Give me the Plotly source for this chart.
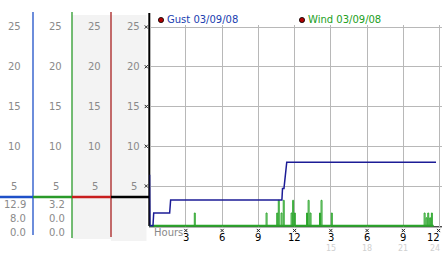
import plotly.graph_objects as go

W, H = 442, 253

# ---------------- data ----------------
gust_hours = [0, 0.03, 0.28, 0.34, 1.66, 1.74, 10.95, 11.0, 11.12, 11.35, 23.7]
gust_mph = [6.4, 0, 0, 1.6, 1.6, 3.25, 3.25, 4.7, 4.7, 8.0, 8.0]

wind_spike_hours = [3.70, 9.64, 10.52, 10.65, 10.88, 11.06, 11.71, 11.84, 11.98,
                    12.99, 13.12, 13.28, 14.06, 14.19, 15.04,
                    22.72, 22.88, 23.02, 23.18, 23.32]
wind_spike_mph = [1.6, 1.6, 1.6, 3.2, 1.6, 3.2, 1.6, 3.2, 1.6,
                  1.6, 3.2, 1.6, 1.6, 3.2, 1.6,
                  1.6, 1.0, 1.6, 1.0, 1.6]
wind_end_hour = 23.5

scale_ticks = [5, 10, 15, 20, 25]
gust_stats = ["12.9", "8.0", "0.0"]
wind_stats = ["3.2", "0.0", "0.0"]
hour_tick_vals = [3, 6, 9, 12, 15, 18, 21, 24]
hour_tick_text = ["3", "6", "9", "12", "3", "6", "9", "12"]
hour_tick_sub = ["", "", "", "", "15", "18", "21", "24"]
legend_names = ["Gust 03/09/08", "Wind 03/09/08"]

# ---------------- styling ----------------
FONT = "DejaVu Sans"
GRAY = "#8a8a8a"
GRID = "#b8b8b8"
GUST_C = "#1c1c96"
WIND_C = "#2aa52a"
BLUE = "#1e50c8"
GREEN = "#2a9a2a"
RED = "#c81e1e"
DRED = "#a82020"


def px(x):
    return x / W


def py(y):
    return 1 - y / H


# y scale: 0 -> 225.75px, 7.95 px per unit
Y0, YS = 225.75, 7.95
y_bottom_px, y_top_px = 227.0, 25.2
y_range = [-(y_bottom_px - Y0) / YS, (Y0 - y_top_px) / YS]
x_left_px, x_24_px = 149.6, 439.6
XS = (x_24_px - x_left_px) / 24
x_range = [0, (W - x_left_px) / XS]


def hx(h):
    return x_left_px + h * XS


def vy(v):
    return Y0 - v * YS


# wind series (stepped spikes)
wx, wy = [0], [0]
for h, v in zip(wind_spike_hours, wind_spike_mph):
    wx += [h, h + 0.08]
    wy += [v, 0]
wx.append(wind_end_hour)
wy.append(0)

fig = go.Figure()
fig.add_trace(go.Scatter(x=wx, y=wy, mode="lines", line=dict(color=WIND_C, width=1, shape="hv"),
                         hoverinfo="skip"))
fig.add_trace(go.Scatter(x=[0, wind_end_hour], y=[0, 0], mode="lines", line=dict(color=WIND_C, width=2),
                         hoverinfo="skip"))
fig.add_trace(go.Scatter(x=gust_hours, y=gust_mph, mode="lines", line=dict(color=GUST_C, width=1.5),
                         hoverinfo="skip"))

shapes = []
# gray column backgrounds
shapes.append(dict(type="rect", xref="paper", yref="paper", x0=px(72), x1=px(111), y0=py(239), y1=py(15),
                   fillcolor="#f3f3f3", line=dict(width=0), layer="below"))
shapes.append(dict(type="rect", xref="paper", yref="paper", x0=px(111), x1=px(146.5), y0=py(241), y1=py(15),
                   fillcolor="#f3f3f3", line=dict(width=0), layer="below"))
# vertical lines of left panel
for x, c, y0, y1, w in [(33, BLUE, 12, 235, 1.3), (72, GREEN, 12, 238, 1.3), (111, DRED, 12, 237, 1.3),
                        (149.3, "#000", 13, 226, 2)]:
    shapes.append(dict(type="line", xref="paper", yref="paper", x0=px(x), x1=px(x), y0=py(y0), y1=py(y1),
                       line=dict(color=c, width=w), layer="below"))
# horizontal thick line
for x0, x1, c in [(0, 33, BLUE), (33, 72, GREEN), (72, 111, RED), (111, 149, "#000")]:
    shapes.append(dict(type="line", xref="paper", yref="paper", x0=px(x0), x1=px(x1), y0=py(197), y1=py(197),
                       line=dict(color=c, width=2.5), layer="below"))
# x axis baseline
shapes.append(dict(type="line", xref="paper", yref="paper", x0=px(149), x1=1, y0=py(226.8), y1=py(226.8),
                   line=dict(color="#000", width=1), layer="below"))
# legend dots
for cx in [161, 302]:
    shapes.append(dict(type="circle", xref="paper", yref="paper", x0=px(cx - 2.6), x1=px(cx + 2.6),
                       y0=py(20 + 2.6), y1=py(20 - 2.6), fillcolor="#b00000", line=dict(color="#000", width=0.8)))


def tiny_x(cx, cy, r=1.6):
    out = []
    for dx0, dy0, dx1, dy1 in [(-r, -r, r, r), (-r, r, r, -r)]:
        out.append(dict(type="line", xref="paper", yref="paper", x0=px(cx + dx0), x1=px(cx + dx1),
                        y0=py(cy + dy0), y1=py(cy + dy1), line=dict(color="#222", width=1)))
    return out


# little tick glyphs
for v in hour_tick_vals:
    shapes += tiny_x(hx(v) - (1 if v == 24 else 0), 230.5)
for v in scale_ticks:
    shapes += tiny_x(146.3, vy(v))

ann = []
col_centers = [14, 55.5, 94.5, 133.5]
for cx in col_centers:
    for v in scale_ticks:
        ann.append(dict(x=px(cx), xref="paper", y=v, yref="y", text=str(v), showarrow=False,
                        font=dict(family=FONT, size=10, color=GRAY), xanchor="center", yanchor="middle"))
for right_x, stats in [(27.5, gust_stats), (66.5, wind_stats)]:
    for yy, s in zip([204, 218.5, 232], stats):
        ann.append(dict(x=px(right_x), xref="paper", y=py(yy), yref="paper", text=s, showarrow=False,
                        font=dict(family=FONT, size=10, color=GRAY), xanchor="right", yanchor="middle"))
# legend texts
ann.append(dict(x=px(165), xref="paper", y=py(20), yref="paper", text=legend_names[0], showarrow=False,
                font=dict(family=FONT, size=10, color="#2040b0"), xanchor="left", yanchor="middle"))
ann.append(dict(x=px(306), xref="paper", y=py(20), yref="paper", text=legend_names[1], showarrow=False,
                font=dict(family=FONT, size=10, color="#22a022"), xanchor="left", yanchor="middle"))
# hours label
ann.append(dict(x=px(152), xref="paper", y=py(232), yref="paper", text="Hours", showarrow=False,
                font=dict(family=FONT, size=10, color=GRAY), xanchor="left", yanchor="middle"))
# hour tick labels (second row: 24h clock, faint)
for i, (v, t, s) in enumerate(zip(hour_tick_vals, hour_tick_text, hour_tick_sub)):
    last = i == len(hour_tick_vals) - 1
    ann.append(dict(x=v, xref="x", y=py(237.6), yref="paper", text=t, showarrow=False,
                    font=dict(family=FONT, size=10, color="#000"),
                    xanchor="right" if last else "center", xshift=2 if last else 0, yanchor="middle"))
    if s:
        ann.append(dict(x=v, xref="x", y=py(248.3), yref="paper", text=s, showarrow=False,
                        font=dict(family=FONT, size=8, color="#d0d0d0"),
                        xanchor="right" if last else "center", xshift=2 if last else 0, yanchor="middle"))

fig.update_layout(
    width=W, height=H, margin=dict(l=0, r=0, t=0, b=0),
    paper_bgcolor="white", plot_bgcolor="rgba(0,0,0,0)",
    showlegend=False, shapes=shapes, annotations=ann,
    xaxis=dict(domain=[px(x_left_px), 1], range=x_range, tickvals=hour_tick_vals, showticklabels=False,
               showgrid=True, gridcolor=GRID, gridwidth=1, zeroline=False, showline=False, ticks=""),
    yaxis=dict(domain=[py(y_bottom_px), py(y_top_px)], range=y_range, tickvals=scale_ticks, showticklabels=False,
               showgrid=True, gridcolor=GRID, gridwidth=1, zeroline=False, showline=False, ticks=""),
)

fig.write_html("out.html")
